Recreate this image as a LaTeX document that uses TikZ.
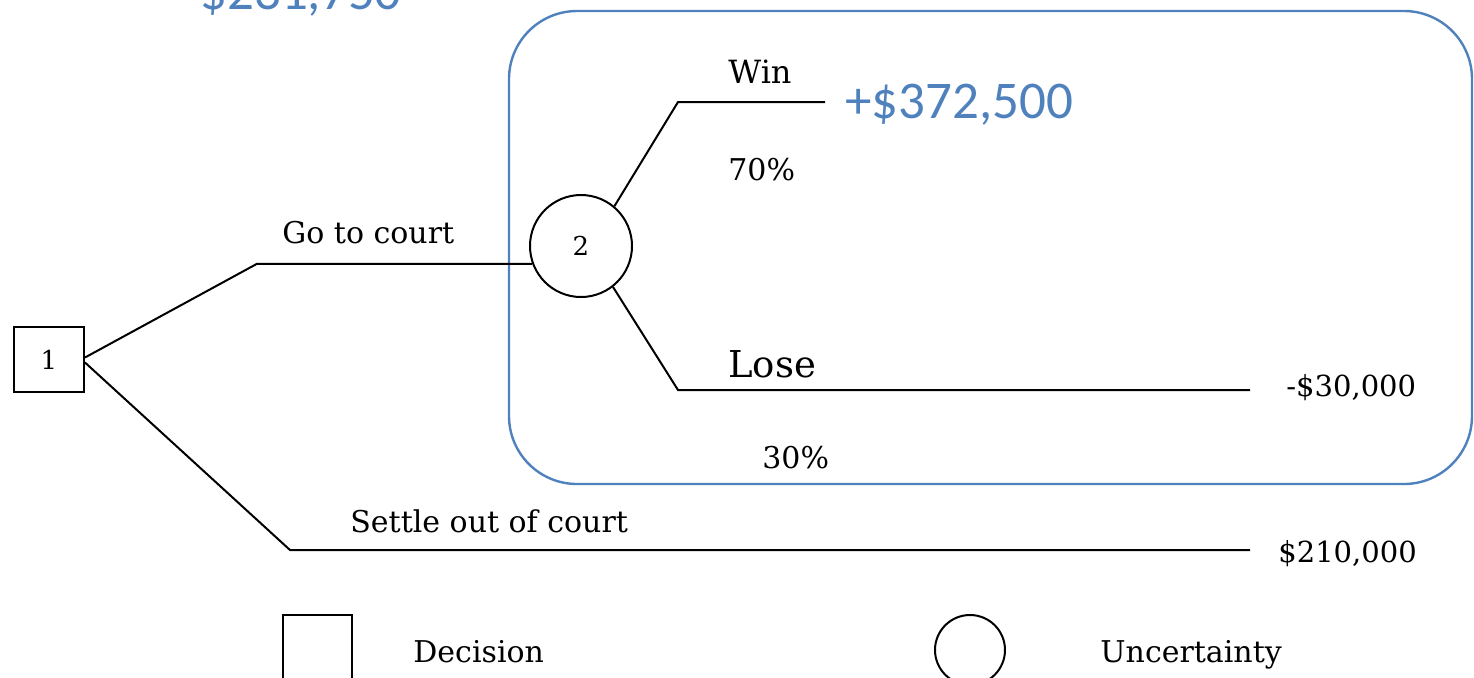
\documentclass[tikz,border=0pt]{standalone}
\usepackage{fontspec}
\newfontfamily\calib{Carlito}
\newfontfamily\dserif{DejaVu Serif}
\definecolor{offblue}{HTML}{4F81BD}
\tikzset{
  tline/.style={line width=1pt, black},
  lbl/.style={anchor=base west, inner sep=0pt, font=\dserif\fontsize{15}{18}\selectfont},
  val/.style={anchor=base west, inner sep=0pt, font=\dserif\fontsize{14.5}{18}\selectfont},
  bluetxt/.style={anchor=base west, inner sep=0pt, text=offblue, font=\calib\fontsize{26.5}{30}\selectfont},
  decbox/.style={draw, line width=1pt, minimum width=35pt, minimum height=32.5pt, inner sep=0pt, font=\dserif\fontsize{13}{16}\selectfont},
  uncirc/.style={draw, circle, line width=1pt, minimum size=51pt, inner sep=0pt, font=\dserif\fontsize{13}{16}\selectfont},
}
\begin{document}
\begin{tikzpicture}[x=0.5pt,y=-0.5pt]
\useasboundingbox (0,0) rectangle (1474,677);
% blue highlight frame
\draw[offblue, line width=1.2pt, rounded corners=34pt] (509,11) rectangle (1472,484);
\node[bluetxt] (ev) at (200,9) {\$231,750};
\node[bluetxt] (winv) at (845,118) {+\$372,500};
% nodes
\node[decbox] (n1) at (49,359.5) {1};
\node[uncirc] (n2) at (581,246) {2};
\coordinate (ge) at (257,264);
\coordinate (se) at (290,550);
\coordinate (sv) at (1250,550);
\coordinate (we) at (678,102);
\coordinate (wv) at (825,102);
\coordinate (le) at (678,390);
\coordinate (lv) at (1250,390);
\draw[tline] ([yshift=1pt]n1.east) -- (ge |- n2.200) -- (n2.200);
\draw[tline] ([yshift=-1.5pt]n1.east) -- (se) -- (sv);
\draw[tline] (n2.50) -- (we) -- (wv);
\draw[tline] (n2.-52) -- (le) -- (lv);
% labels
\node[lbl] (gotxt) at (282,243) {Go to court};
\node[lbl, font=\dserif\fontsize{16}{18}\selectfont] (wintxt) at (728,83) {Win};
\node[lbl] (p70) at (728,180) {70\%};
\node[lbl, font=\dserif\fontsize{18.5}{22}\selectfont] (losetxt) at (728,377) {Lose};
\node[lbl] (p30) at (762,468) {30\%};
\node[val] (losev) at (1286,396) {-\$30,000};
\node[lbl] (settxt) at (350,532) {Settle out of court};
\node[val] (setv) at (1278,562) {\$210,000};
% legend
\node[draw, line width=1pt, minimum width=34.5pt, minimum height=40pt, inner sep=0pt] (legsq) at (317.5,655) {};
\node[lbl] (legd) at (413,662) {Decision};
\node[draw, circle, line width=1pt, minimum size=35pt, inner sep=0pt] (legc) at (970,650) {};
\node[lbl] (legu) at (1100,662) {Uncertainty};
\end{tikzpicture}
\end{document}
